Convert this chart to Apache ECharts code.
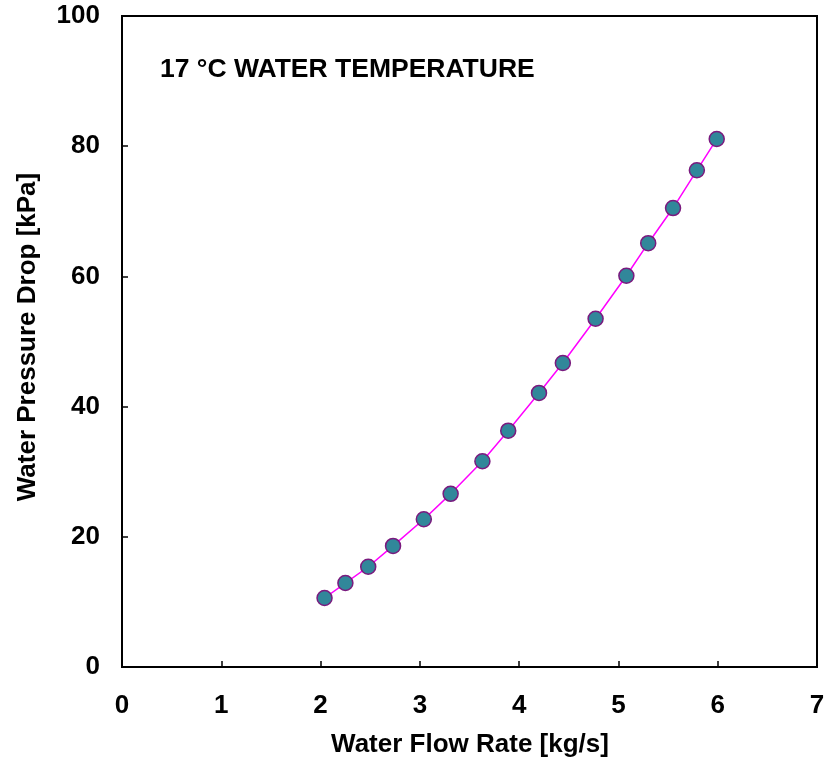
<!DOCTYPE html>
<html>
<head>
<meta charset="utf-8">
<script src="https://cdn.jsdelivr.net/npm/echarts@6/dist/echarts.min.js"></script>
<style>html,body{margin:0;padding:0;background:#fff;}#c{width:824px;height:762px;}</style>
</head>
<body>
<div id="c"></div>
<script>
var flowRate = [2.04, 2.25, 2.48, 2.73, 3.04, 3.31, 3.63, 3.89, 4.20, 4.44, 4.77, 5.08, 5.30, 5.55, 5.79, 5.99];
var pressureDrop = [10.6, 12.9, 15.4, 18.6, 22.7, 26.6, 31.6, 36.3, 42.1, 46.7, 53.5, 60.1, 65.1, 70.5, 76.3, 81.1];
var xTitle = 'Water Flow Rate [kg/s]';
var yTitle = 'Water Pressure Drop [kPa]';
var note = '17 °C WATER TEMPERATURE';

var pts = flowRate.map(function (x, i) { return [x, pressureDrop[i]]; });
var font = 'Liberation Sans, Arial, sans-serif';
var chart = echarts.init(document.getElementById('c'));
chart.setOption({
  animation: false,
  backgroundColor: '#fff',
  grid: { left: 122, top: 16, right: 7, bottom: 95, containLabel: false, outerBoundsMode: 'none',
          show: true, borderColor: '#000', borderWidth: 2, backgroundColor: 'transparent' },
  xAxis: {
    type: 'value', min: 0, max: 7, interval: 1,
    axisLine: { show: true, lineStyle: { color: '#000', width: 2 } },
    axisTick: { show: true, inside: true, length: 6, lineStyle: { color: '#000', width: 1.5 } },
    axisLabel: { margin: 26, fontFamily: font, fontWeight: 'bold', fontSize: 26, color: '#000' },
    splitLine: { show: false }
  },
  yAxis: {
    type: 'value', min: 0, max: 100, interval: 20,
    axisLine: { show: true, lineStyle: { color: '#000', width: 2 } },
    axisTick: { show: true, inside: true, length: 6, lineStyle: { color: '#000', width: 1.5 } },
    axisLabel: { margin: 22, fontFamily: font, fontWeight: 'bold', fontSize: 26, color: '#000' },
    splitLine: { show: false }
  },
  graphic: [{
    type: 'text', x: 160, y: 70,
    style: { text: note, fontFamily: font, fontWeight: 'bold', fontSize: 26.5, fill: '#000', verticalAlign: 'middle', align: 'left' }
  }, {
    type: 'text', x: 470, y: 745,
    style: { text: xTitle, fontFamily: font, fontWeight: 'bold', fontSize: 26, fill: '#000', verticalAlign: 'middle', align: 'center' }
  }, {
    type: 'text', x: 28, y: 337, rotation: Math.PI / 2,
    style: { text: yTitle, fontFamily: font, fontWeight: 'bold', fontSize: 26, fill: '#000', verticalAlign: 'middle', align: 'center' }
  }],
  series: [{
    type: 'line', data: pts, smooth: false,
    symbol: 'circle', symbolSize: 15,
    lineStyle: { color: '#ff00ff', width: 1.5 },
    itemStyle: { color: '#31879a', borderColor: '#7a1a7e', borderWidth: 1.5 }
  }]
});
</script>
</body>
</html>
